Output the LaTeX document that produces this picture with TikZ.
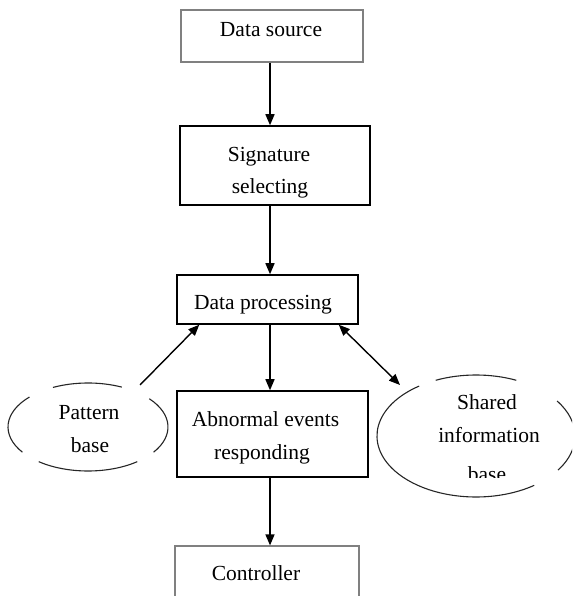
\documentclass[tikz,border=0pt]{standalone}
\usepackage{fontspec}
\setmainfont{Liberation Serif}
\usetikzlibrary{arrows.meta,calc,shapes.geometric}
\begin{document}
\begin{tikzpicture}[x=1pt,y=1pt,
  txt/.style={font=\fontsize{21.5}{25}\selectfont, inner sep=0pt, anchor=base},
  grbox/.style={draw=black!50, line width=1.2pt, inner sep=0pt},
  bkbox/.style={draw=black, line width=1.5pt, inner sep=0pt},
  arr/.style={line width=1.4pt, -{Triangle[length=11pt,width=9pt]}},
  darr/.style={line width=1.4pt, {Triangle[length=11pt,width=9pt]}-{Triangle[length=11pt,width=9pt]}},
  ell/.style={line width=1.1pt, draw=black!85},
  ellnode/.style={ellipse, inner sep=0pt}]
\useasboundingbox (0,0) rectangle (572,596);
\clip (0,0) rectangle (572,596);
% boxes
\node[grbox, minimum width=182pt, minimum height=52pt] (ds) at (272,560) {};
\node[bkbox, minimum width=190pt, minimum height=79pt] (sig) at (275,430.5) {};
\node[bkbox, minimum width=181pt, minimum height=49pt] (dp) at (267.5,296.5) {};
\node[bkbox, minimum width=191pt, minimum height=86pt] (ab) at (272.5,162) {};
\node[grbox, minimum width=184pt, minimum height=60pt] (ct) at (267,20) {};
% texts
\node[txt] (tds) at (271,559) {Data source};
\node[txt] (tsig1) at (269,434.5) {Signature};
\node[txt] (tsig2) at (270,402) {selecting};
\node[txt] (tdp) at (263,286) {Data processing};
\node[txt] (tab1) at (265.5,169) {Abnormal events};
\node[txt] (tab2) at (262,136) {responding};
\node[txt] (tct) at (256,16) {Controller};
% ellipses
\node[ellnode, minimum width=160pt, minimum height=88pt] (pb) at (88,169) {};
\node[ellnode, minimum width=198pt, minimum height=122pt] (sh) at (476,160) {};
\draw[ell] ($(pb.center)+(65:80pt and 44pt)$) arc[start angle=65, end angle=116, x radius=80pt, y radius=44pt];
\draw[ell] ($(pb.center)+(137:80pt and 44pt)$) arc[start angle=137, end angle=215, x radius=80pt, y radius=44pt];
\draw[ell] ($(pb.center)+(232:80pt and 44pt)$) arc[start angle=232, end angle=308, x radius=80pt, y radius=44pt];
\draw[ell] ($(pb.center)+(-35:80pt and 44pt)$) arc[start angle=-35, end angle=40, x radius=80pt, y radius=44pt];
\draw[ell] ($(sh.center)+(66:99pt and 61pt)$) arc[start angle=66, end angle=114, x radius=99pt, y radius=61pt];
\draw[ell] ($(sh.center)+(125:99pt and 61pt)$) arc[start angle=125, end angle=306, x radius=99pt, y radius=61pt];
\draw[ell] ($(sh.center)+(-34:99pt and 61pt)$) arc[start angle=-34, end angle=35, x radius=99pt, y radius=61pt];
\node[txt] (tpb1) at (89,176) {Pattern};
\node[txt] (tpb2) at (90,143) {base};
\node[txt] (tsh1) at (487,186) {Shared};
\node[txt] (tsh2) at (489,153) {information};
\begin{scope}
\clip (0,118) rectangle (572,596);
\node[txt] (tsh3) at (487,114) {base};
\end{scope}
% connectors
\coordinate (ax) at (270,0);
\draw[arr] (ds.south -| ax) -- (sig.north -| ax);
\draw[arr] (sig.south -| ax) -- (dp.north -| ax);
\draw[arr] (dp.south -| ax) -- (ab.north -| ax);
\draw[arr] (ab.south -| ax) -- (ct.north -| ax);
\draw[arr] ($(pb.center)+(52,42)$) -- ($(dp.south west)+(23,0)$);
\draw[darr] ($(dp.south east)+(-20,0)$) -- ($(sh.center)+(-76,51)$);
\end{tikzpicture}
\end{document}
